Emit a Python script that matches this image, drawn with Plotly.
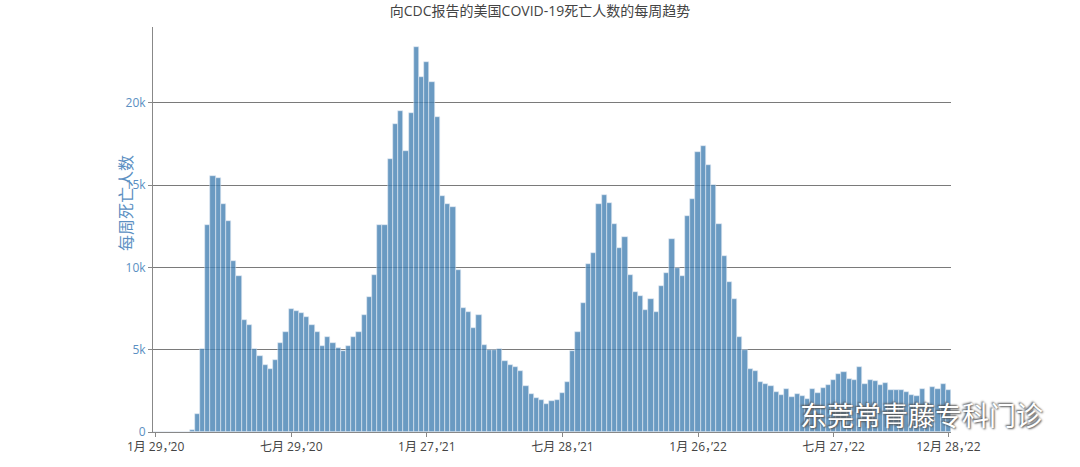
import pandas as pd
import plotly.graph_objects as go

start_date = "2020-01-29"
n_weeks = 153
weekly_deaths = [
    0, 0, 0, 0, 0, 0, 0, 100, 1100, 5050,
    12550, 15550, 15450, 13850, 12800, 10400, 9500, 6800, 6500, 5050,
    4600, 4050, 3800, 4400, 5400, 6050, 7500, 7350, 7250, 7000,
    6500, 6050, 5200, 5750, 5400, 5100, 4950, 5250, 5800, 6100,
    7100, 8200, 9550, 12570, 12570, 16600, 18680, 19500, 17050, 19380,
    23370, 21570, 22500, 21240, 19150, 14340, 13850, 13640, 9850, 7520,
    7280, 6300, 7110, 5290, 5000, 5000, 5060, 4340, 4080, 3950,
    3680, 2780, 2330, 2060, 1920, 1710, 1900, 1960, 2370, 3030,
    4900, 6100, 7860, 10200, 10900, 13840, 14380, 13940, 12630, 11200,
    11860, 9540, 8480, 8280, 7410, 8080, 7310, 8870, 9640, 11700,
    9980, 9500, 13100, 14180, 17000, 17350, 16200, 15000, 12650, 10720,
    9130, 8100, 5760, 5000, 3840, 3700, 3030, 2920, 2770, 2400,
    2260, 2630, 2100, 2320, 2200, 2020, 2600, 2360, 2670, 2830,
    3170, 3540, 3640, 3230, 3130, 3940, 2930, 3170, 3070, 2870,
    3000, 2530, 2530, 2530, 2420, 2260, 2160, 2600, 1750, 2730,
    2630, 2930, 2530,
]
tick_dates = ["2020-01-29", "2020-07-29", "2021-01-27", "2021-07-28",
              "2022-01-26", "2022-07-27", "2022-12-28"]
tick_labels = ["1月 29，’20", "七月 29，’20", "1月 27，’21", "七月 28，’21",
               "1月 26，’22", "七月 27，’22", "12月 28，’22"]
y_ticks = [0, 5000, 10000, 15000, 20000]
y_tick_labels = ["0", "5k", "10k", "15k", "20k"]

title_text = "向CDC报告的美国COVID-19死亡人数的每周趋势"
y_title = "每周死亡人数"
watermark = "东莞常青藤专科门诊"

dates = pd.date_range(start_date, periods=n_weeks, freq="7D")

FONT = "Open Sans, Noto Sans CJK SC, sans-serif"
BLUE = "#5b8fc2"

fig = go.Figure(
    go.Bar(
        x=dates,
        y=weekly_deaths,
        marker=dict(color="steelblue", line=dict(color="#dbe6f1", width=0.6)),
        opacity=0.8,
    )
)

fig.update_layout(
    width=1080,
    height=467,
    margin=dict(l=153, r=129, t=27, b=35),
    paper_bgcolor="white",
    plot_bgcolor="white",
    bargap=0,
    showlegend=False,
    font=dict(family=FONT, color="#444"),
    title=dict(text=title_text, x=0.5, xanchor="center", y=0.987, yanchor="top",
               font=dict(size=14, color="#444", family=FONT)),
    annotations=[
        dict(text=y_title, xref="paper", yref="paper", x=-0.034, y=0.565,
             xanchor="center", yanchor="middle", textangle=-90, showarrow=False,
             font=dict(size=16, color=BLUE, family=FONT)),
        dict(text=watermark, xref="paper", yref="paper", x=1.118, y=-0.01,
             xanchor="right", yanchor="bottom", showarrow=False,
             font=dict(size=27, color="white", family=FONT,
                       shadow="1px 1px 2px #555, -1px -1px 2px #555")),
    ],
)

fig.update_xaxes(
    type="date",
    tickmode="array",
    tickvals=tick_dates,
    ticktext=tick_labels,
    showgrid=False,
    showline=True,
    linecolor="#888",
    ticks="outside",
    ticklen=4,
    tickcolor="#888",
    tickfont=dict(size=12, color="#444", family=FONT),
)

fig.update_yaxes(
    tickmode="array",
    tickvals=y_ticks,
    ticktext=y_tick_labels,
    showgrid=True,
    gridcolor="#7a7a7a",
    gridwidth=1,
    showline=True,
    linecolor="#888",
    ticks="outside",
    ticklen=4,
    tickcolor="#888",
    zeroline=False,
    tickfont=dict(size=12, color=BLUE, family=FONT),
)

fig.write_html("out.html", config={"displayModeBar": False},
               post_script="document.body.style.margin='0';")
